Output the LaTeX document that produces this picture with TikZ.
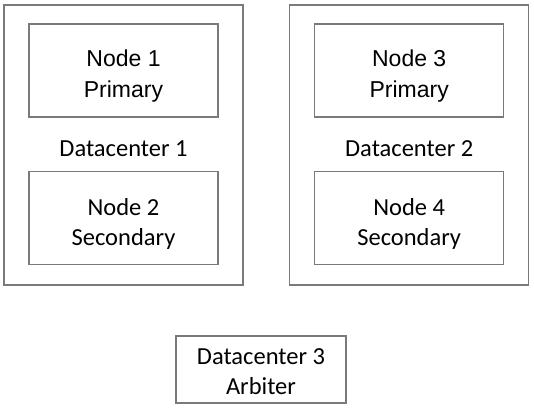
\documentclass[tikz,border=0pt]{standalone}
\usepackage{fontspec}
\setmainfont{Carlito}
\newfontfamily\arialfont{Liberation Sans}
\usepackage{tikz}
\usetikzlibrary{positioning}

\begin{document}
\begin{tikzpicture}[x=1pt, y=-1pt,
    box/.style={draw=black!52, line width=1.5pt, inner sep=0pt},
    dcbox/.style={box, minimum width=239pt, minimum height=280pt},
    nodebox/.style={box, minimum width=189pt, minimum height=93pt},
    txt/.style={align=center, inner sep=0pt, font=\fontsize{24.5}{30}\selectfont},
    primtxt/.style={txt, font=\arialfont\fontsize{23}{31}\selectfont}
  ]
    \useasboundingbox (0,0) rectangle (534,410);
    % datacenters
    \node[dcbox] (dc1) at (123.5,145) {};
    \node[dcbox] (dc2) at (409.2,145) {};
    \node[txt] (dc1lbl) at (123.5,149) {Datacenter 1};
    \node[txt] (dc2lbl) at (409.2,149) {Datacenter 2};
    % nodes
    \node[nodebox] (node1) at (123.5,70.5) {};
    \node[nodebox] (node2) at (123.5,218) {};
    \node[nodebox] (node3) at (409.2,70.5) {};
    \node[nodebox] (node4) at (409.2,218) {};
    \node[primtxt] (node1txt) at (123.5,76.5) {Node 1\\Primary};
    \node[txt] (node2txt) at (123.5,223.5) {Node 2\\Secondary};
    \node[primtxt] (node3txt) at (409.2,76.5) {Node 3\\Primary};
    \node[txt] (node4txt) at (409.2,223.5) {Node 4\\Secondary};
    % arbiter
    \node[box, minimum width=170pt, minimum height=67pt] (arb) at (261,369.7) {};
    \node[txt] (arbtxt) at (261,372) {Datacenter 3\\Arbiter};
\end{tikzpicture}
\end{document}
